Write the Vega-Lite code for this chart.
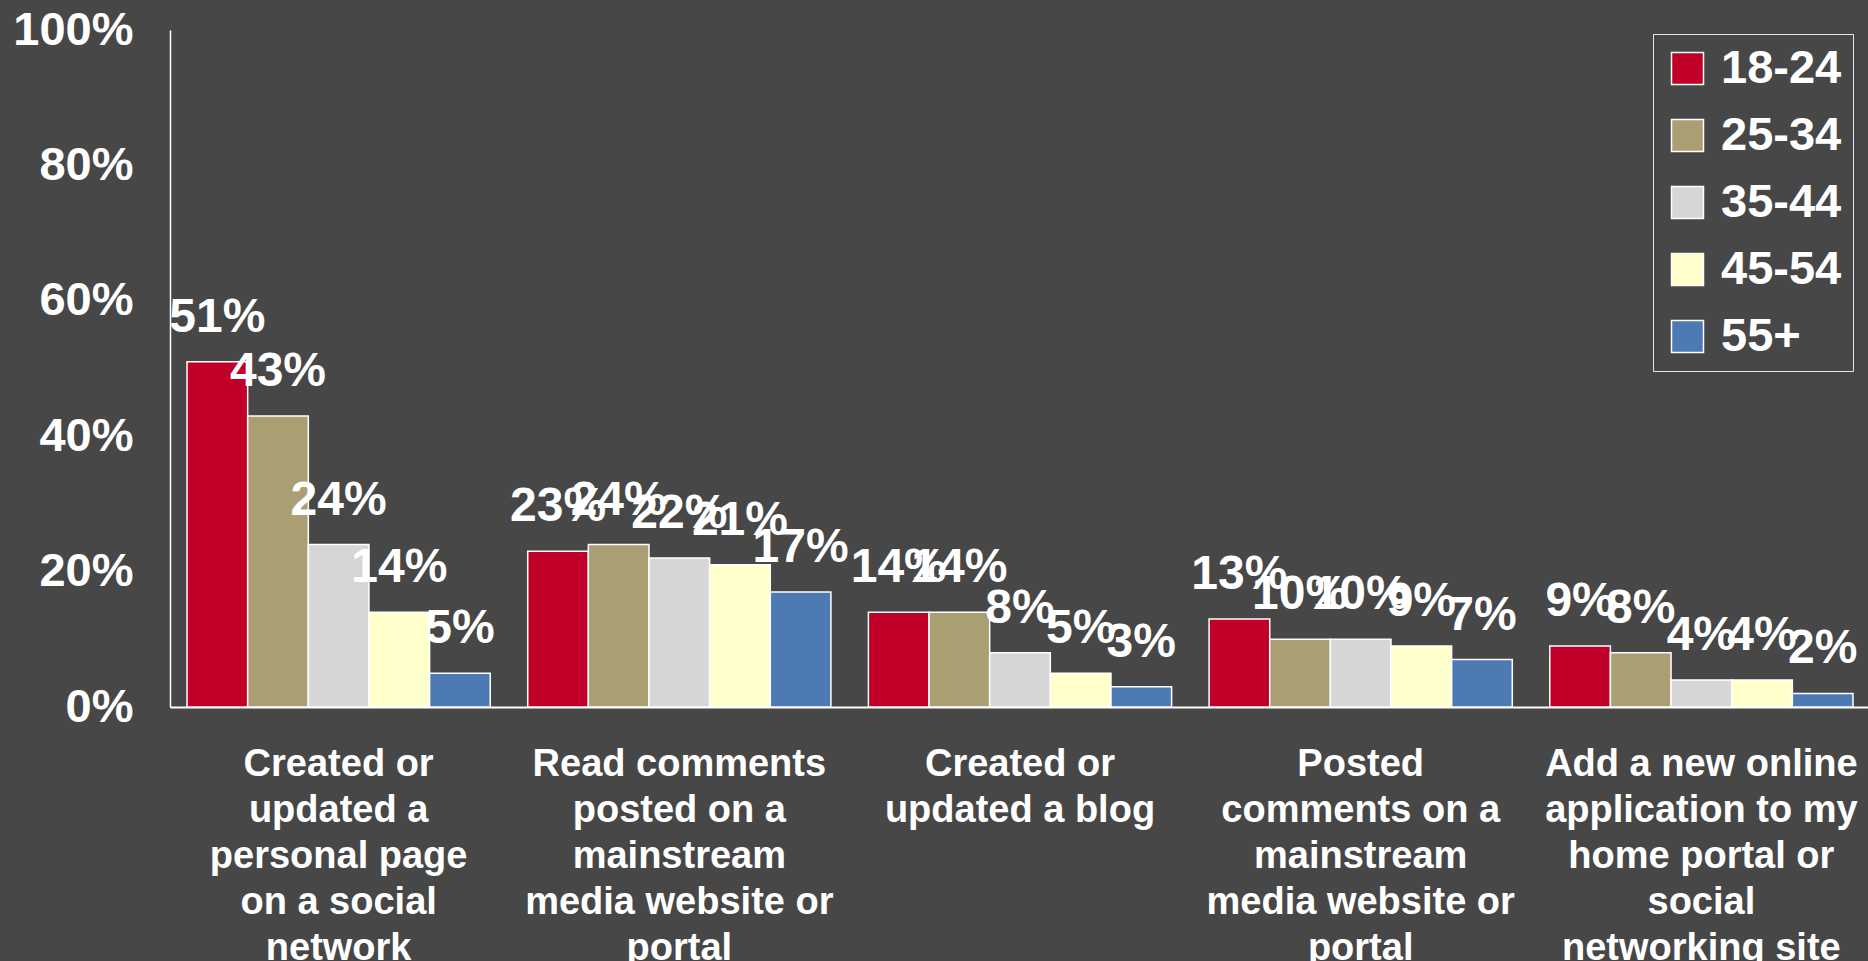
{
  "$schema": "https://vega.github.io/schema/vega-lite/v6.json",
  "autosize": {"type": "none"},
  "width": 1700,
  "height": 677,
  "padding": {"left": 170, "top": 30, "right": 0, "bottom": 254},
  "background": "#474747",
  "config": {
    "view": {"stroke": null},
    "font": "Liberation Sans"
  },
  "data": {
    "values": [
      {"activity": "Created or|updated a|personal page|on a social|network", "age": "18-24", "share": 0.51},
      {"activity": "Created or|updated a|personal page|on a social|network", "age": "25-34", "share": 0.43},
      {"activity": "Created or|updated a|personal page|on a social|network", "age": "35-44", "share": 0.24},
      {"activity": "Created or|updated a|personal page|on a social|network", "age": "45-54", "share": 0.14},
      {"activity": "Created or|updated a|personal page|on a social|network", "age": "55+", "share": 0.05},
      {"activity": "Read comments|posted on a|mainstream|media website or|portal", "age": "18-24", "share": 0.23},
      {"activity": "Read comments|posted on a|mainstream|media website or|portal", "age": "25-34", "share": 0.24},
      {"activity": "Read comments|posted on a|mainstream|media website or|portal", "age": "35-44", "share": 0.22},
      {"activity": "Read comments|posted on a|mainstream|media website or|portal", "age": "45-54", "share": 0.21},
      {"activity": "Read comments|posted on a|mainstream|media website or|portal", "age": "55+", "share": 0.17},
      {"activity": "Created or|updated a blog", "age": "18-24", "share": 0.14},
      {"activity": "Created or|updated a blog", "age": "25-34", "share": 0.14},
      {"activity": "Created or|updated a blog", "age": "35-44", "share": 0.08},
      {"activity": "Created or|updated a blog", "age": "45-54", "share": 0.05},
      {"activity": "Created or|updated a blog", "age": "55+", "share": 0.03},
      {"activity": "Posted|comments on a|mainstream|media website or|portal", "age": "18-24", "share": 0.13},
      {"activity": "Posted|comments on a|mainstream|media website or|portal", "age": "25-34", "share": 0.10},
      {"activity": "Posted|comments on a|mainstream|media website or|portal", "age": "35-44", "share": 0.10},
      {"activity": "Posted|comments on a|mainstream|media website or|portal", "age": "45-54", "share": 0.09},
      {"activity": "Posted|comments on a|mainstream|media website or|portal", "age": "55+", "share": 0.07},
      {"activity": "Add a new online|application to my|home portal or|social|networking site", "age": "18-24", "share": 0.09},
      {"activity": "Add a new online|application to my|home portal or|social|networking site", "age": "25-34", "share": 0.08},
      {"activity": "Add a new online|application to my|home portal or|social|networking site", "age": "35-44", "share": 0.04},
      {"activity": "Add a new online|application to my|home portal or|social|networking site", "age": "45-54", "share": 0.04},
      {"activity": "Add a new online|application to my|home portal or|social|networking site", "age": "55+", "share": 0.02}
    ]
  },
  "encoding": {
    "x": {
      "field": "activity",
      "type": "nominal",
      "sort": null,
      "scale": {"paddingInner": 0.11, "paddingOuter": 0.05},
      "axis": {
        "title": null,
        "labelAngle": 0,
        "labelExpr": "split(datum.value, '|')",
        "labelColor": "#ffffff",
        "labelFont": "Liberation Sans",
        "labelFontWeight": "bold",
        "labelFontSize": 38,
        "labelLineHeight": 46,
        "labelBaseline": "top",
        "labelPadding": 38,
        "labelLimit": 0,
        "ticks": false,
        "domainColor": "#ffffff",
        "domainWidth": 2,
        "grid": false
      }
    },
    "xOffset": {"field": "age", "type": "nominal", "sort": ["18-24", "25-34", "35-44", "45-54", "55+"], "scale": {"paddingInner": 0, "paddingOuter": 0}},
    "y": {
      "field": "share",
      "type": "quantitative",
      "scale": {"domain": [0, 1], "nice": false},
      "axis": {
        "title": null,
        "values": [0, 0.2, 0.4, 0.6, 0.8, 1],
        "format": ".0%",
        "labelColor": "#ffffff",
        "labelFont": "Liberation Sans",
        "labelFontWeight": "bold",
        "labelFontSize": 47,
        "labelPadding": 37,
        "ticks": false,
        "grid": false,
        "domainColor": "#ffffff",
        "domainWidth": 1.5
      }
    }
  },
  "layer": [
    {
      "mark": {"type": "bar", "stroke": "#ffffff", "strokeWidth": 1.5},
      "encoding": {
        "color": {
          "field": "age",
          "type": "nominal",
          "sort": ["18-24", "25-34", "35-44", "45-54", "55+"],
          "scale": {"domain": ["18-24", "25-34", "35-44", "45-54", "55+"], "range": ["#c00028", "#aa9f72", "#d6d6d6", "#ffffcc", "#4e7ab4"]},
          "legend": {
            "title": null,
            "orient": "none",
            "legendX": 1483,
            "legendY": 4,
            "symbolType": "square",
            "symbolSize": 1024,
            "symbolStrokeColor": "#ffffff",
            "symbolStrokeWidth": 1.5,
            "symbolOpacity": 1,
            "labelColor": "#ffffff",
            "labelFont": "Liberation Sans",
            "labelFontWeight": "bold",
            "labelFontSize": 47,
            "labelOffset": 10,
            "rowPadding": 19,
            "padding": 11,
            "strokeColor": "#e6e6e6"
          }
        }
      }
    },
    {
      "mark": {"type": "text", "color": "#ffffff", "font": "Liberation Sans", "fontWeight": "bold", "fontSize": 48, "baseline": "alphabetic", "dy": -30},
      "encoding": {
        "text": {"field": "share", "type": "quantitative", "format": ".0%"}
      }
    }
  ]
}
